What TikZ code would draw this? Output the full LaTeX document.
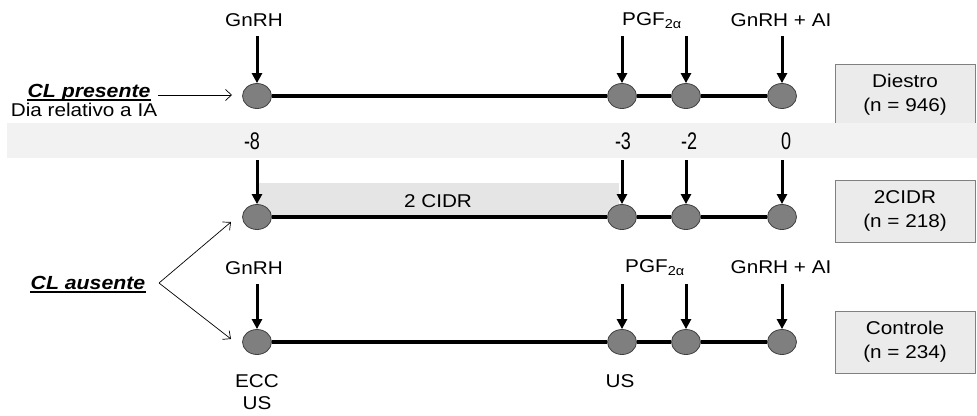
\documentclass[tikz,border=0pt]{standalone}
\usepackage{fontspec}
\setmainfont{Liberation Sans}[
  FakeStretch=1.12,
  UprightFont={Liberation Sans},
  BoldFont={Liberation Sans Bold},
  ItalicFont={Liberation Sans Italic},
  BoldItalicFont={Liberation Sans Bold Italic}]
\newfontfamily\bandfont{Liberation Sans}[FakeStretch=0.75]
\newfontfamily\tagfont{Liberation Sans Bold Italic}[FakeStretch=1.12]
\usetikzlibrary{arrows.meta,shapes.geometric}

\definecolor{bandgray}{HTML}{F2F2F2}
\definecolor{boxgray}{HTML}{EBEBEB}
\definecolor{cidrgray}{HTML}{E5E5E5}
\definecolor{dotgray}{HTML}{7F7F7F}
\definecolor{dotedge}{HTML}{404040}

\begin{document}
\begin{tikzpicture}[x=1pt,y=-1pt,
  font=\fontsize{18.5}{24}\selectfont,
  dot/.style={ellipse,draw=dotedge,line width=0.8pt,fill=dotgray,
              minimum width=29pt,minimum height=25pt,inner sep=0pt},
  track/.style={line width=3.2pt},
  kick/.style={line width=3pt,-{Triangle[length=10pt,width=10pt]}},
  pointer/.style={line width=0.7pt,-{Straight Barb[length=6pt,width=11pt]}},
  grpbox/.style={draw=gray,line width=1pt,fill=boxgray,
                 minimum width=140pt,minimum height=62pt,align=center,inner sep=0pt},
  lbl/.style={inner sep=0pt,anchor=center},
  daynum/.style={inner sep=0pt,font=\fontsize{24}{26}\bandfont},
  tag/.style={inner sep=0pt,font=\fontsize{19}{24}\tagfont},
  uline/.style={line width=1.6pt}
]
\useasboundingbox (0,0) rectangle (977,415);

% group box of the first row, partly hidden by the day band
\node[grpbox] (bDiestro) at (905,95) {Diestro\\(n = 946)};

% day band
\fill[bandgray] (7,123) rectangle (977,158);
\node[daynum] (dm8) at (252,141) {-8};
\node[daynum] (dm3) at (623,141) {-3};
\node[daynum] (dm2) at (689,141) {-2};
\node[daynum] (d0)  at (786,141) {0};

% CIDR insert period
\fill[cidrgray] (257,183) rectangle (619,217);
\node[lbl] (cidr) at (438,201) {2 CIDR};

% other group boxes
\node[grpbox] (b2cidr) at (905,211) {2CIDR\\(n = 218)};
\node[grpbox] (bCtrl)  at (905,342) {Controle\\(n = 234)};

% three time lines
\foreach \r/\yy in {t/96,m/217,b/342}{
  \node[dot] (\r1) at (257,\yy) {};
  \node[dot] (\r2) at (622,\yy) {};
  \node[dot] (\r3) at (686,\yy) {};
  \node[dot] (\r4) at (782,\yy) {};
}
\foreach \r in {t,m,b}{
  \draw[track] (\r1.east) -- (\r2.west);
  \draw[track] (\r2.east) -- (\r3.west);
  \draw[track] (\r3.east) -- (\r4.west);
}

% treatment labels
\node[lbl] (tg)  at (254,20)  {GnRH};
\node[lbl] (tp)  at (652,21)  {PGF\textsubscript{2α}};
\node[lbl] (ta)  at (781,20)  {GnRH + AI};
\node[lbl] (bg)  at (254,268) {GnRH};
\node[lbl] (bp)  at (655,268) {PGF\textsubscript{2α}};
\node[lbl] (ba)  at (781,267) {GnRH + AI};

% treatment arrows
\foreach \c/\xx in {1/257,2/622,3/686,4/782}{
  \coordinate (st\c) at (\xx,36);
  \coordinate (sm\c) at (\xx,160);
  \coordinate (sb\c) at (\xx,284);
  \draw[kick] (st\c) -- (t\c.north);
  \draw[kick] (sm\c) -- (m\c.north);
  \draw[kick] (sb\c) -- (b\c.north);
}

% exams under the bottom line
\node[lbl] (ecc) at (257,381) {ECC};
\node[lbl] (us1) at (257,403) {US};
\node[lbl] (us2) at (620,381) {US};

% corpus luteum present
\node[tag,anchor=base] (clp) at (89,97) {CL presente};
\draw[uline] ([yshift=-3pt]clp.base west) -- ([yshift=-3pt]clp.base east);
\node[lbl,anchor=base] (dia) at (84,116) {Dia relativo a IA};
\coordinate (pStart) at (158,95);
\coordinate (pEnd) at (232,95);
\draw[pointer] (pStart) -- (pEnd);

% corpus luteum absent
\node[tag,anchor=base] (cla) at (88,289) {CL ausente};
\draw[uline] ([yshift=-3pt]cla.base west) -- ([yshift=-3pt]cla.base east);
\coordinate (vtx) at (159,283);
\coordinate (aUp) at (231,222);
\coordinate (aDn) at (231,339);
\draw[pointer] (vtx) -- (aUp);
\draw[pointer] (vtx) -- (aDn);
\end{tikzpicture}
\end{document}
